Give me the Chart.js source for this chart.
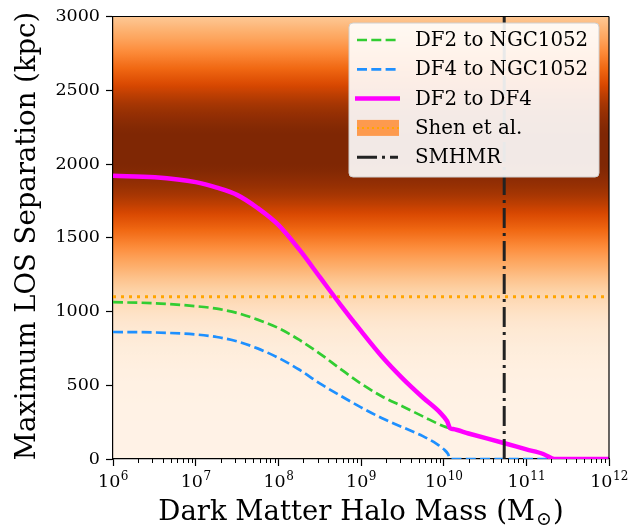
<!DOCTYPE html>
<html>
<head>
<meta charset="utf-8">
<script src="https://cdn.jsdelivr.net/npm/chart.js@4.4.1/dist/chart.umd.min.js"></script>
<style>
  html, body { margin: 0; padding: 0; background: #ffffff; }
</style>
</head>
<body>
<canvas id="grafico" width="641" height="525"></canvas>
<script>
// halo mass (Msun) vs maximum line-of-sight separation (kpc)
const massDF2NGC = [1e6, 3.2e6, 1e7, 1.8e7, 3.2e7, 5.6e7, 1e8, 1.8e8, 3.2e8, 5.6e8, 1e9, 1.8e9, 3.2e9, 5.6e9, 1e10, 1.2e10];
const sepDF2NGC  = [1063, 1056, 1036, 1019, 989, 945, 888, 807, 713, 612, 511, 424, 356, 289, 222, 208];

const massDF4NGC = [1e6, 3.2e6, 1e7, 1.8e7, 3.2e7, 5.6e7, 1e8, 1.8e8, 3.2e8, 5.6e8, 1e9, 1.8e9, 3.2e9, 5.6e9, 8.3e9, 1e10, 1.13e10, 1.2e10, 1e12];
const sepDF4NGC  = [861, 858, 844, 827, 797, 750, 686, 605, 511, 430, 350, 276, 215, 155, 101, 67, 34, 0, 0];

const massDF2DF4 = [1e6, 3.2e6, 1e7, 1.8e7, 3.2e7, 5.6e7, 1e8, 1.8e8, 3.2e8, 5.6e8, 1e9, 1.8e9, 3.2e9, 5.6e9, 9e9, 1.1e10, 1.2e10, 1.3e10, 2e10, 5.6e10, 1e11, 1.6e11, 2e11, 2.15e11, 1e12];
const sepDF2DF4  = [1920, 1910, 1877, 1840, 1789, 1702, 1587, 1419, 1231, 1049, 868, 693, 545, 417, 316, 256, 208, 203, 173, 105, 65, 34, 7, 0, 0];

// Shen et al. separation and its spread, SMHMR halo mass
const shenSep = 1100;
const shenCentre = 2100;
const shenWidth = 550;
const smhmrMass = 5.4e10;

const xTickExps = [6, 7, 8, 9, 10, 11, 12];
const yTicks = [0, 500, 1000, 1500, 2000, 2500, 3000];

const FONT = '"DejaVu Serif", serif';
const verde = '#32cd32';
const azul = '#1e90ff';
const magenta = '#ff00ff';
const laranja = '#ffa500';
const preto = '#222222';

// matplotlib "Oranges"
const oranges = ['#fff5eb', '#fee6ce', '#fdd0a2', '#fdae6b', '#fd8d3c', '#f16913', '#d94801', '#a63603', '#7f2704'];

function hexRgb(h) {
    return [1, 3, 5].map(i => parseInt(h.slice(i, i + 2), 16));
}

function corLaranja(t) {
    t = Math.max(0, Math.min(1, t));
    const p = t * (oranges.length - 1);
    const i = Math.min(Math.floor(p), oranges.length - 2);
    const f = p - i;
    const a = hexRgb(oranges[i]), b = hexRgb(oranges[i + 1]);
    const c = a.map((v, k) => Math.round(v + (b[k] - v) * f));
    return `rgb(${c[0]},${c[1]},${c[2]})`;
}

const faixaShen = {
    id: 'faixaShen',
    beforeDraw(chart) {
        const {ctx, chartArea: a, scales: {y}} = chart;
        const y0 = y.getPixelForValue(y.min), y1 = y.getPixelForValue(y.max);
        const g = ctx.createLinearGradient(0, y0, 0, y1);
        for (let v = y.min; v <= y.max; v += 25) {
            const d = (v - shenCentre) / shenWidth;
            g.addColorStop((v - y.min) / (y.max - y.min), corLaranja(0.02 + Math.exp(-0.5 * d * d)));
        }
        ctx.save();
        ctx.fillStyle = g;
        ctx.fillRect(a.left, a.top, a.right - a.left, a.bottom - a.top);
        ctx.restore();
    }
};

function linha(ctx, x0, y0, x1, y1, cor, w, dash) {
    ctx.save();
    ctx.strokeStyle = cor;
    ctx.lineWidth = w;
    ctx.setLineDash(dash || []);
    ctx.beginPath();
    ctx.moveTo(x0, y0);
    ctx.lineTo(x1, y1);
    ctx.stroke();
    ctx.restore();
}

const extras = {
    id: 'extras',
    afterDraw(chart) {
        const {ctx, chartArea: a, scales: {x}} = chart;

        // minor ticks on the log axis
        for (let e = 6; e < 12; e++) {
            for (let k = 2; k <= 9; k++) {
                const px = Math.round(x.getPixelForValue(k * Math.pow(10, e))) + 0.5;
                linha(ctx, px, a.bottom, px, a.bottom + 4, '#000', 1);
            }
        }

        // 10^n labels
        ctx.save();
        ctx.fillStyle = '#000';
        ctx.textBaseline = 'alphabetic';
        xTickExps.forEach(e => {
            const px = x.getPixelForValue(Math.pow(10, e));
            ctx.font = `17.5px ${FONT}`;
            const wb = ctx.measureText('10').width;
            ctx.font = `12px ${FONT}`;
            const ws = ctx.measureText(String(e)).width;
            const x0 = px - (wb + ws) / 2;
            ctx.font = `17.5px ${FONT}`;
            ctx.fillText('10', x0, 487);
            ctx.font = `12px ${FONT}`;
            ctx.fillText(String(e), x0 + wb + 0.5, 480);
        });

        // axis titles
        const t1 = 'Dark Matter Halo Mass (M', t2 = ')';
        ctx.font = `27.5px ${FONT}`;
        const w1 = ctx.measureText(t1).width, w2 = ctx.measureText(t2).width;
        ctx.font = `19px ${FONT}`;
        const ws = ctx.measureText('\u2299').width;
        const cx = (a.left + a.right) / 2;
        const tx = cx - (w1 + ws + w2 + 2) / 2;
        ctx.font = `27.5px ${FONT}`;
        ctx.fillText(t1, tx, 520);
        ctx.font = `19px ${FONT}`;
        ctx.fillText('\u2299', tx + w1 + 1, 525);
        ctx.font = `27.5px ${FONT}`;
        ctx.fillText(t2, tx + w1 + ws + 2, 520);

        ctx.translate(35, 236);
        ctx.rotate(-Math.PI / 2);
        ctx.textAlign = 'center';
        ctx.fillText('Maximum LOS Separation (kpc)', 0, 0);
        ctx.restore();

        // top and right spines
        linha(ctx, a.left, a.top, a.right, a.top, '#000', 1.2);
        linha(ctx, a.right, a.top, a.right, a.bottom, '#000', 1.2);

        // legend
        const bx = 349, by = 23, bw = 250, bh = 154;
        ctx.save();
        ctx.beginPath();
        ctx.roundRect(bx, by, bw, bh, 4);
        ctx.fillStyle = 'rgba(255,255,255,0.9)';
        ctx.fill();
        ctx.strokeStyle = '#d0d0d0';
        ctx.lineWidth = 1;
        ctx.stroke();
        ctx.restore();

        const itens = [
            {label: 'DF2 to NGC1052', cor: verde, w: 2.7, dash: [10, 4.3]},
            {label: 'DF4 to NGC1052', cor: azul, w: 2.7, dash: [10, 4.3]},
            {label: 'DF2 to DF4', cor: magenta, w: 4.5},
            {label: 'Shen et al.', patch: true},
            {label: 'SMHMR', cor: preto, w: 3, dash: [20, 5, 3, 5]}
        ];
        itens.forEach((it, i) => {
            const ly = 40 + i * 29.3;
            if (it.patch) {
                ctx.fillStyle = '#fd9a4e';
                ctx.fillRect(357, ly - 8, 42, 16);
                linha(ctx, 357, ly, 399, ly, laranja, 2, [2, 3]);
            } else if (it.dash) {
                linha(ctx, 357, ly, 398, ly, it.cor, it.w, it.dash);
            } else {
                linha(ctx, 355, ly, 400, ly, it.cor, it.w);
            }
            ctx.save();
            ctx.fillStyle = '#000';
            ctx.font = `19.8px ${FONT}`;
            ctx.textBaseline = 'middle';
            ctx.fillText(it.label, 415, ly + 1);
            ctx.restore();
        });
    }
};

const pontos = (xs, ys) => xs.map((m, i) => ({x: m, y: ys[i]}));
const decadas = xTickExps.map(e => Math.pow(10, e));

new Chart(document.getElementById('grafico'), {
    type: 'line',
    data: {
        datasets: [
            {
                label: 'SMHMR',
                data: pontos([smhmrMass, smhmrMass], [yTicks[0], yTicks[yTicks.length - 1]]),
                borderColor: preto,
                borderWidth: 3,
                borderDash: [20, 5, 3, 5],
                order: 0
            },
            {
                label: 'DF2 to DF4',
                data: pontos(massDF2DF4, sepDF2DF4),
                borderColor: magenta,
                borderWidth: 4.5,
                cubicInterpolationMode: 'monotone',
                order: 1
            },
            {
                label: 'DF2 to NGC1052',
                data: pontos(massDF2NGC, sepDF2NGC),
                borderColor: verde,
                borderWidth: 2.7,
                borderDash: [10, 4.3],
                cubicInterpolationMode: 'monotone',
                order: 2
            },
            {
                label: 'DF4 to NGC1052',
                data: pontos(massDF4NGC, sepDF4NGC),
                borderColor: azul,
                borderWidth: 2.7,
                borderDash: [10, 4.3],
                cubicInterpolationMode: 'monotone',
                order: 3
            },
            {
                label: 'Shen et al.',
                data: pontos([decadas[0], decadas[decadas.length - 1]], [shenSep, shenSep]),
                borderColor: laranja,
                borderWidth: 3,
                borderDash: [3, 5],
                order: 4
            }
        ]
    },
    options: {
        responsive: false,
        animation: false,
        events: [],
        elements: {point: {radius: 0}},
        layout: {padding: {top: 13, right: 32, left: 0, bottom: 0}},
        plugins: {
            legend: {display: false},
            tooltip: {enabled: false}
        },
        scales: {
            x: {
                type: 'logarithmic',
                min: decadas[0],
                max: decadas[decadas.length - 1],
                afterBuildTicks: s => { s.ticks = decadas.map(v => ({value: v})); },
                afterFit: s => { s.height = 66; },
                ticks: {display: false},
                grid: {drawOnChartArea: false, tickLength: 7, tickWidth: 1.2, tickColor: '#000'},
                border: {color: '#000', width: 1.2}
            },
            y: {
                min: yTicks[0],
                max: yTicks[yTicks.length - 1],
                afterBuildTicks: s => { s.ticks = yTicks.map(v => ({value: v})); },
                afterFit: s => { s.width = 113; },
                ticks: {color: '#000', font: {family: FONT, size: 17.5}, padding: 6, callback: v => String(v)},
                grid: {drawOnChartArea: false, tickLength: 7, tickWidth: 1.2, tickColor: '#000'},
                border: {color: '#000', width: 1.2}
            }
        }
    },
    plugins: [faixaShen, extras]
});
</script>
</body>
</html>
